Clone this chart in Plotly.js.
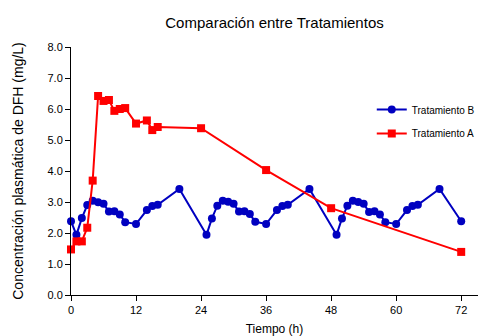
<!DOCTYPE html>
<html>
<head>
<meta charset="utf-8">
<script src="https://cdn.plot.ly/plotly-3.0.1.min.js"></script>
<style>
  html, body { margin: 0; padding: 0; background: #fff; }
  #chart { width: 478px; height: 336px; }
</style>
</head>
<body>
<div id="chart"></div>
<script>
// Tratamiento B: dosing every few hours, three 24 h cycles
const timeB = [0, 1, 2, 3, 4, 5, 6, 7, 8, 9, 10, 12, 14, 15, 16, 20,
               25, 26, 27, 28, 29, 30, 31, 32, 33, 34, 36, 38, 39, 40, 44,
               49, 50, 51, 52, 53, 54, 55, 56, 57, 58, 60, 62, 63, 64, 68, 72];
const concB = [2.38, 1.94, 2.48, 2.90, 3.04, 2.99, 2.94, 2.69, 2.70, 2.60, 2.35, 2.29, 2.74, 2.87, 2.91, 3.42,
               1.94, 2.47, 2.88, 3.04, 3.01, 2.94, 2.69, 2.70, 2.61, 2.36, 2.29, 2.74, 2.87, 2.91, 3.42,
               1.94, 2.47, 2.88, 3.04, 3.00, 2.94, 2.68, 2.70, 2.60, 2.35, 2.29, 2.74, 2.87, 2.91, 3.42, 2.38];

// Tratamiento A: single loading regimen
const timeA = [0, 1, 2, 3, 4, 5, 6, 7, 8, 9, 10, 12, 14, 15, 16, 24, 36, 48, 72];
const concA = [1.47, 1.73, 1.73, 2.17, 3.69, 6.42, 6.26, 6.29, 5.94, 6.00, 6.03, 5.53, 5.63, 5.32, 5.42, 5.38, 4.03, 2.80, 1.39];

const xTicks = [0, 12, 24, 36, 48, 60, 72];
const yTicks = [0, 1, 2, 3, 4, 5, 6, 7, 8];

const traces = [
  {
    x: timeB, y: concB, name: 'Tratamiento B', type: 'scatter', mode: 'lines+markers',
    line: { color: '#0000c0', width: 2 },
    marker: { color: '#0000c0', symbol: 'circle', size: 8 },
    cliponaxis: false, legend: 'legend'
  },
  {
    x: timeA, y: concA, name: 'Tratamiento A', type: 'scatter', mode: 'lines+markers',
    line: { color: '#ff0000', width: 2 },
    marker: { color: '#ff0000', symbol: 'square', size: 8 },
    cliponaxis: false, legend: 'legend2'
  }
];

const font = 'Liberation Sans, Arial, sans-serif';

const legendBase = {
  x: 0.739, xanchor: 'left', yanchor: 'top',
  bgcolor: 'rgba(0,0,0,0)', font: { family: font, size: 10 },
  itemwidth: 30
};

const layout = {
  width: 478, height: 336,
  // fixed margins: the legends sit at the right edge and must not shrink the plot
  margin: { l: 71, r: 0, t: 47, b: 41, autoexpand: false },
  paper_bgcolor: '#fff', plot_bgcolor: '#fff',
  font: { family: font, color: '#000', size: 11 },
  title: {
    text: 'Comparación entre Tratamientos',
    font: { family: font, size: 15, color: '#000' },
    x: 0.5, xref: 'paper', y: 0.932, yref: 'container', yanchor: 'middle'
  },
  xaxis: {
    range: [0, 75.1], tickvals: xTicks, ticktext: xTicks.map(String),
    showline: true, linecolor: '#000', linewidth: 1,
    ticks: 'outside', ticklen: 5, tickcolor: '#000',
    showgrid: false, zeroline: false,
    tickfont: { family: font, size: 11 },
    title: { text: 'Tiempo (h)', font: { family: font, size: 12 }, standoff: 9 }
  },
  yaxis: {
    range: [0, 8], tickvals: yTicks, ticktext: yTicks.map(v => v.toFixed(1)),
    showline: true, linecolor: '#000', linewidth: 1,
    ticks: 'outside', ticklen: 5, tickcolor: '#000',
    showgrid: false, zeroline: false,
    tickfont: { family: font, size: 11 },
    title: { text: 'Concentración plasmática de DFH (mg/L)', font: { family: font, size: 14 }, standoff: 20 }
  },
  showlegend: true,
  legend: Object.assign({ y: 0.806 }, legendBase),
  legend2: Object.assign({ y: 0.71 }, legendBase)
};

Plotly.newPlot('chart', traces, layout, { displayModeBar: false, staticPlot: true });
</script>
</body>
</html>
